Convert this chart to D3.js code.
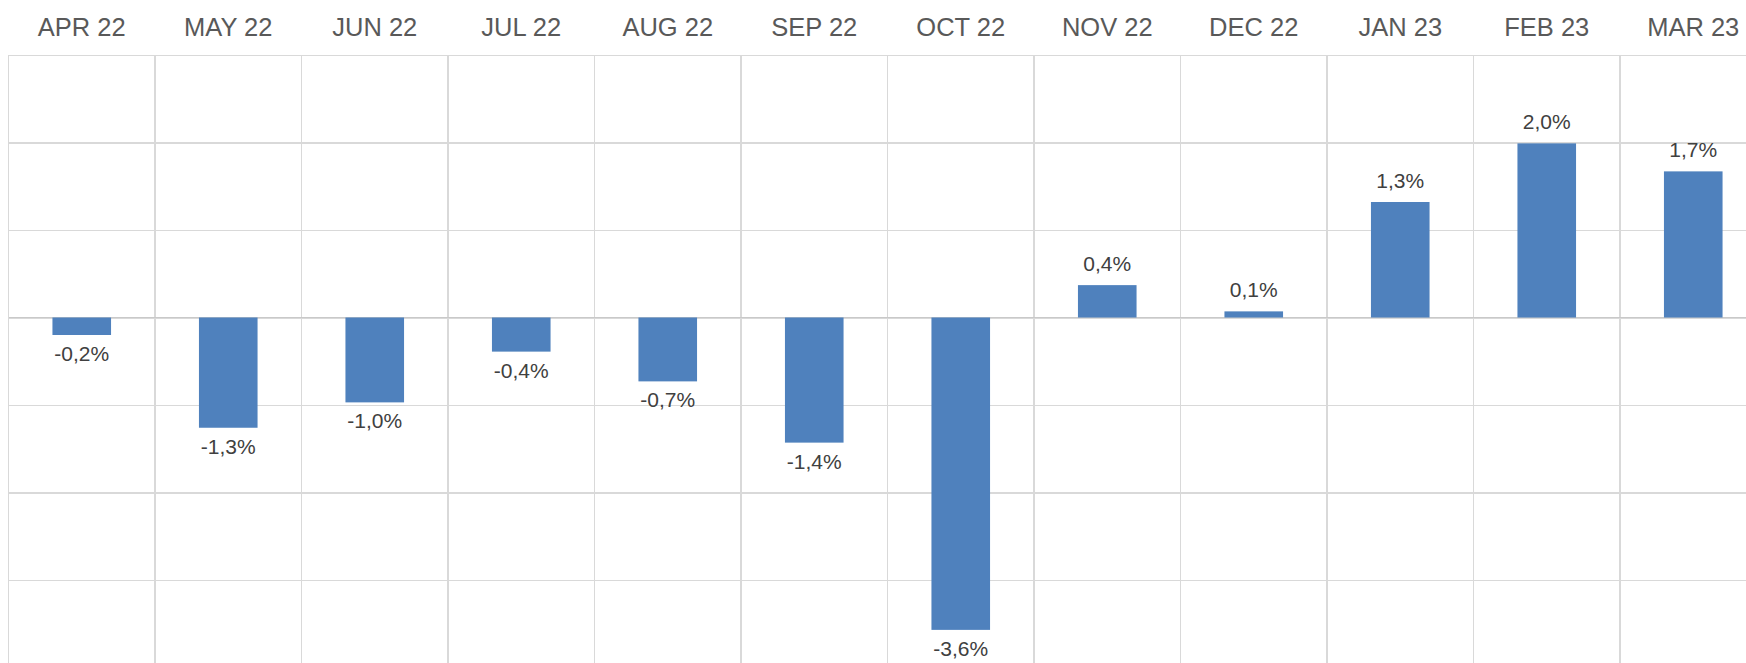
<!DOCTYPE html>
<html>
<head>
<meta charset="utf-8">
<script src="https://cdn.jsdelivr.net/npm/d3@7"></script>
<style>
  body { margin: 0; background: #fff; }
  svg { display: block; font-family: "Liberation Sans", Arial, sans-serif; }
  .grid line { stroke: #d9d9d9; stroke-width: 1.2; shape-rendering: crispEdges; }
  .months text { fill: #595959; font-size: 25.5px; }
  .value-label { fill: #404040; font-size: 21px; }
</style>
</head>
<body>
<script>
  // monthly change (labels show 1 decimal)
  const months = ["APR 22", "MAY 22", "JUN 22", "JUL 22", "AUG 22", "SEP 22",
                  "OCT 22", "NOV 22", "DEC 22", "JAN 23", "FEB 23", "MAR 23"];
  const changes = [-0.20, -1.26, -0.97, -0.39, -0.73, -1.43,
                   -3.57, 0.37, 0.07, 1.32, 1.99, 1.67];
  const yTicks = [-4, -3, -2, -1, 0, 1, 2, 3];

  const width = 1746, height = 663;
  const plotLeft = 8.5, plotTop = 55, colStep = 146.5, unit = 87.5;
  const plotRight = plotLeft + colStep * months.length;

  const svg = d3.select("body").append("svg")
      .attr("width", width)
      .attr("height", height);

  const x = d3.scaleBand()
      .domain(months)
      .range([plotLeft, plotRight])
      .paddingInner(0.6)
      .paddingOuter(0.3);

  const y = d3.scaleLinear()
      .domain([d3.min(yTicks), d3.max(yTicks)])
      .range([plotTop + unit * (yTicks.length - 1), plotTop]);

  // horizontal gridlines
  svg.append("g")
      .attr("class", "grid")
      .attr("transform", `translate(${plotLeft},0)`)
      .call(d3.axisLeft(y).tickValues(yTicks).tickSize(-(plotRight - plotLeft)).tickFormat(""))
      .call(g => g.select(".domain").remove());

  // vertical gridlines between categories
  const gap = x.step() * 0.3;
  svg.append("g")
      .attr("class", "grid")
      .selectAll("line")
      .data(months)
      .join("line")
      .attr("x1", d => x(d) - gap)
      .attr("x2", d => x(d) - gap)
      .attr("y1", y(d3.max(yTicks)))
      .attr("y2", y(d3.min(yTicks)));

  // zero line a touch darker
  svg.append("line")
      .attr("x1", plotLeft).attr("x2", plotRight)
      .attr("y1", y(0)).attr("y2", y(0))
      .attr("stroke", "#c9c9c9")
      .attr("stroke-width", 1.2)
      .attr("shape-rendering", "crispEdges");

  // month labels on top
  svg.append("g")
      .attr("class", "months")
      .attr("transform", "translate(0,36)")
      .call(d3.axisTop(x).tickSize(0).tickPadding(0))
      .call(g => g.select(".domain").remove());

  // bars
  svg.append("g")
      .selectAll("rect")
      .data(changes)
      .join("rect")
      .attr("x", (d, i) => x(months[i]))
      .attr("width", x.bandwidth())
      .attr("y", d => y(Math.max(0, d)))
      .attr("height", d => Math.abs(y(d) - y(0)))
      .attr("fill", "#4f81bd");

  const fmt = d => d.toFixed(1).replace(".", ",") + "%";

  // value labels
  svg.append("g")
      .selectAll("text")
      .data(changes)
      .join("text")
      .attr("class", "value-label")
      .attr("text-anchor", "middle")
      .attr("x", (d, i) => x(months[i]) + x.bandwidth() / 2)
      .attr("y", d => d >= 0 ? y(d) - 14 : y(d) + 26)
      .text(fmt);
</script>
</body>
</html>
